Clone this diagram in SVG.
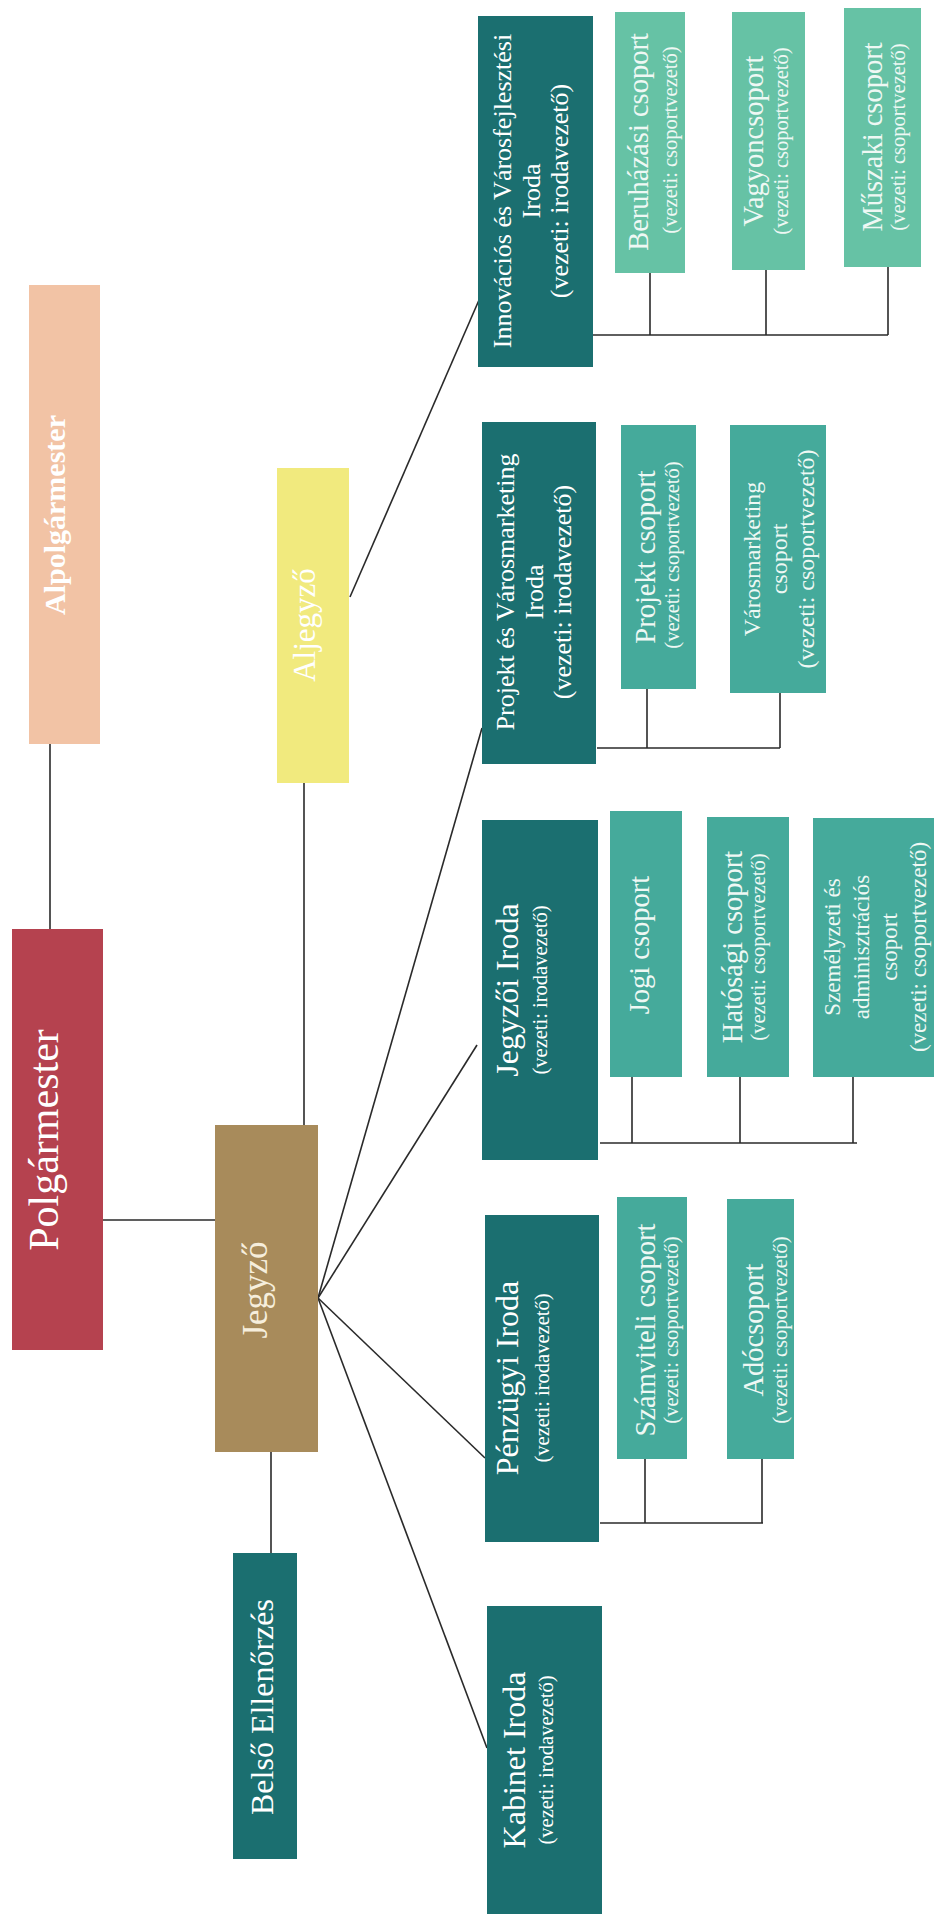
<svg xmlns="http://www.w3.org/2000/svg" width="934" height="1916" viewBox="0 0 934 1916">
<style>
text{font-family:"Liberation Serif","Times New Roman",serif;fill:#ffffff;text-anchor:middle}
.conn line{stroke:#2a2a2a;stroke-width:1.6;fill:none}
.office{fill:#1b6f70}
.grp{fill:#45aa9b}
.grpl{fill:#66c2a5}
.gt{font-size:28.5px;fill:#eef8f4}
.gs{font-size:20.5px;fill:#eef8f4}
.ot{font-size:32px}
.os{font-size:20.5px}
.om{font-size:26px}
</style>
<rect x="0" y="0" width="934" height="1916" fill="#ffffff"/>

<g id="connectors" class="conn">
<line x1="50" y1="744" x2="50" y2="929"/>
<line x1="103" y1="1220" x2="215" y2="1220"/>
<line x1="304" y1="783" x2="304" y2="1125"/>
<line x1="271" y1="1452" x2="271" y2="1553"/>
<line x1="350" y1="597" x2="479" y2="300"/>
<line x1="318" y1="1298" x2="482" y2="728"/>
<line x1="318" y1="1298" x2="477" y2="1045"/>
<line x1="318" y1="1298" x2="485" y2="1458"/>
<line x1="318" y1="1298" x2="487" y2="1748"/>
<line x1="593" y1="335" x2="888" y2="335"/>
<line x1="650" y1="273" x2="650" y2="335"/>
<line x1="766" y1="270" x2="766" y2="335"/>
<line x1="888" y1="267" x2="888" y2="335"/>
<line x1="597" y1="748" x2="780" y2="748"/>
<line x1="647" y1="689" x2="647" y2="748"/>
<line x1="780" y1="693" x2="780" y2="748"/>
<line x1="600" y1="1143" x2="857" y2="1143"/>
<line x1="632" y1="1077" x2="632" y2="1143"/>
<line x1="740" y1="1077" x2="740" y2="1143"/>
<line x1="853" y1="1077" x2="853" y2="1143"/>
<line x1="600" y1="1523" x2="763" y2="1523"/>
<line x1="645" y1="1459" x2="645" y2="1523"/>
<line x1="762" y1="1459" x2="762" y2="1523"/>
</g>

<g id="alpolgarmester">
<rect x="29" y="285" width="71" height="459" fill="#f2c3a5"/>
<text transform="translate(65,515) rotate(-90)" font-size="30" font-weight="bold">Alpolgármester</text>
</g>
<g id="polgarmester">
<rect x="12" y="929" width="91" height="421" fill="#b5424f"/>
<text transform="translate(58,1140) rotate(-90)" font-size="42">Polgármester</text>
</g>
<g id="aljegyzo">
<rect x="277" y="468" width="72" height="315" fill="#f1ea7e"/>
<text transform="translate(315,625) rotate(-90)" font-size="31">Aljegyző</text>
</g>
<g id="jegyzo">
<rect x="215" y="1125" width="103" height="327" fill="#a88b5b"/>
<text transform="translate(267,1290) rotate(-90)" font-size="35" style="fill:#f6eedc">Jegyző</text>
</g>
<g id="belso-ellenorzes">
<rect x="233" y="1553" width="64" height="306" class="office"/>
<text transform="translate(273,1707) rotate(-90)" font-size="32">Belső Ellenőrzés</text>
</g>

<g id="innovacios-iroda">
<rect x="478" y="16" width="115" height="351" class="office"/>
<text class="om" transform="translate(511,191) rotate(-90)">Innovációs és Városfejlesztési</text>
<text class="om" transform="translate(540,191) rotate(-90)">Iroda</text>
<text class="om" transform="translate(568,191) rotate(-90)">(vezeti: irodavezető)</text>
</g>
<g id="projekt-varosmarketing-iroda">
<rect x="482" y="422" width="114" height="342" class="office"/>
<text class="om" transform="translate(514,592) rotate(-90)">Projekt és Városmarketing</text>
<text class="om" transform="translate(543,592) rotate(-90)">Iroda</text>
<text class="om" transform="translate(571,592) rotate(-90)">(vezeti: irodavezető)</text>
</g>
<g id="jegyzoi-iroda">
<rect x="482" y="820" width="116" height="340" class="office"/>
<text class="ot" transform="translate(518,990) rotate(-90)">Jegyzői Iroda</text>
<text class="os" transform="translate(547,990) rotate(-90)">(vezeti: irodavezető)</text>
</g>
<g id="penzugyi-iroda">
<rect x="485" y="1215" width="114" height="327" class="office"/>
<text class="ot" transform="translate(518,1378) rotate(-90)">Pénzügyi Iroda</text>
<text class="os" transform="translate(549,1378) rotate(-90)">(vezeti: irodavezető)</text>
</g>
<g id="kabinet-iroda">
<rect x="487" y="1606" width="115" height="308" class="office"/>
<text class="ot" transform="translate(525,1760) rotate(-90)">Kabinet Iroda</text>
<text class="os" transform="translate(553,1760) rotate(-90)">(vezeti: irodavezető)</text>
</g>

<g id="beruhazasi-csoport">
<rect x="615" y="12" width="70" height="261" class="grpl"/>
<text class="gt" transform="translate(648,142) rotate(-90)">Beruházási csoport</text>
<text class="gs" transform="translate(677,140) rotate(-90)">(vezeti: csoportvezető)</text>
</g>
<g id="vagyoncsoport">
<rect x="732" y="12" width="73" height="258" class="grpl"/>
<text class="gt" transform="translate(763,141) rotate(-90)">Vagyoncsoport</text>
<text class="gs" transform="translate(788,141) rotate(-90)">(vezeti: csoportvezető)</text>
</g>
<g id="muszaki-csoport">
<rect x="844" y="8" width="77" height="259" class="grpl"/>
<text class="gt" transform="translate(882,137) rotate(-90)">Műszaki csoport</text>
<text class="gs" transform="translate(905,137) rotate(-90)">(vezeti: csoportvezető)</text>
</g>
<g id="projekt-csoport">
<rect x="621" y="425" width="75" height="264" class="grp"/>
<text class="gt" transform="translate(655,557) rotate(-90)">Projekt csoport</text>
<text class="gs" transform="translate(679,555) rotate(-90)">(vezeti: csoportvezető)</text>
</g>
<g id="varosmarketing-csoport">
<rect x="730" y="425" width="96" height="268" class="grp"/>
<text transform="translate(760,559) rotate(-90)" font-size="24" style="fill:#eef8f4">Városmarketing</text>
<text transform="translate(787,559) rotate(-90)" font-size="24" style="fill:#eef8f4">csoport</text>
<text transform="translate(814,559) rotate(-90)" font-size="24" style="fill:#eef8f4">(vezeti: csoportvezető)</text>
</g>
<g id="jogi-csoport">
<rect x="610" y="811" width="72" height="266" class="grp"/>
<text class="gt" transform="translate(649,945) rotate(-90)">Jogi csoport</text>
</g>
<g id="hatosagi-csoport">
<rect x="707" y="817" width="82" height="260" class="grp"/>
<text class="gt" transform="translate(742,947) rotate(-90)">Hatósági csoport</text>
<text class="gs" transform="translate(765,947) rotate(-90)">(vezeti: csoportvezető)</text>
</g>
<g id="szemelyzeti-csoport">
<rect x="813" y="818" width="121" height="259" class="grp"/>
<text transform="translate(840,947) rotate(-90)" font-size="23" style="fill:#eef8f4">Személyzeti és</text>
<text transform="translate(869,947) rotate(-90)" font-size="23" style="fill:#eef8f4">adminisztrációs</text>
<text transform="translate(897,947) rotate(-90)" font-size="23" style="fill:#eef8f4">csoport</text>
<text transform="translate(926,947) rotate(-90)" font-size="23" style="fill:#eef8f4">(vezeti: csoportvezető)</text>
</g>
<g id="szamviteli-csoport">
<rect x="617" y="1197" width="70" height="262" class="grp"/>
<text class="gt" transform="translate(655,1330) rotate(-90)">Számviteli csoport</text>
<text class="gs" transform="translate(678,1330) rotate(-90)">(vezeti: csoportvezető)</text>
</g>
<g id="adocsoport">
<rect x="727" y="1199" width="67" height="260" class="grp"/>
<text class="gt" transform="translate(763,1330) rotate(-90)">Adócsoport</text>
<text class="gs" transform="translate(787,1330) rotate(-90)">(vezeti: csoportvezető)</text>
</g>
</svg>
